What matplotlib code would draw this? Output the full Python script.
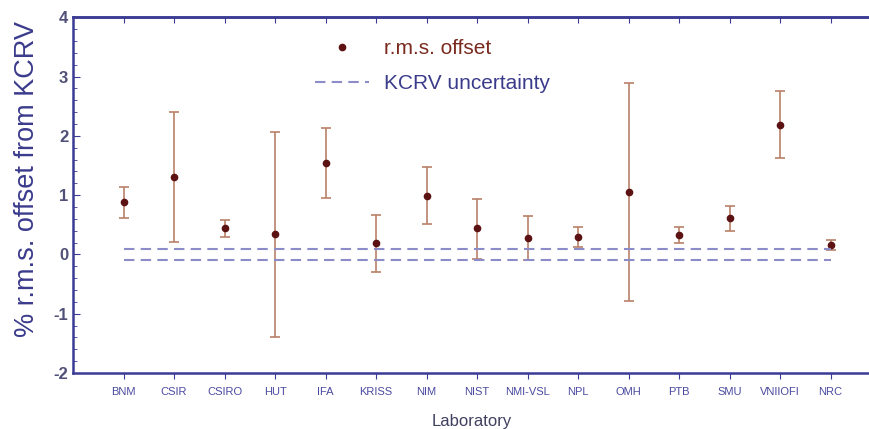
import numpy as np
from matplotlib import pyplot as plt
from matplotlib.ticker import MultipleLocator

labs = ['BNM', 'CSIR', 'CSIRO', 'HUT', 'IFA', 'KRISS', 'NIM', 'NIST',
        'NMI-VSL', 'NPL', 'OMH', 'PTB', 'SMU', 'VNIIOFI', 'NRC']
offset = [0.88, 1.31, 0.44, 0.34, 1.55, 0.19, 0.99, 0.44,
          0.27, 0.30, 1.06, 0.32, 0.61, 2.19, 0.16]
upper = [1.14, 2.40, 0.58, 2.07, 2.14, 0.66, 1.48, 0.94,
         0.65, 0.47, 2.90, 0.46, 0.82, 2.75, 0.24]
lower = [0.61, 0.21, 0.29, -1.39, 0.95, -0.30, 0.52, -0.08,
         -0.09, 0.12, -0.79, 0.19, 0.40, 1.63, 0.08]
kcrv_unc = 0.1

plt.rcParams['font.family'] = ['Liberation Sans', 'DejaVu Sans']
plt.rcParams['axes.unicode_minus'] = False

navy = '#3b3b95'
x = np.arange(1, len(labs) + 1)
off = np.array(offset)
yerr = [off - np.array(lower), np.array(upper) - off]

fig = plt.figure(figsize=(8.7, 4.29), dpi=100)
ax = fig.add_axes([0.0839, 0.1305, 0.9161, 0.8291])

ax.errorbar(x, off, yerr=yerr, fmt='none', ecolor='#b9826a', elinewidth=1.2,
            capsize=3.6, capthick=1.2)
ax.plot(x, off, 'o', color='#5c1212', markersize=4.5, label='r.m.s. offset')
ax.plot([x[0], x[-1]], [kcrv_unc, kcrv_unc], '--', color='#8c8cc8', lw=1.5,
        dashes=(5, 3), label='KCRV uncertainty')
ax.plot([x[0], x[-1]], [-kcrv_unc, -kcrv_unc], '--', color='#8c8cc8', lw=1.5,
        dashes=(5, 3))

ax.set_xlim(0, 15.78)
ax.set_ylim(-2, 4)
ax.set_xticks(x)
ax.set_xticklabels(labs, fontsize=8, color='#4a4aa0')
ax.yaxis.set_major_locator(MultipleLocator(1))
ax.yaxis.set_minor_locator(MultipleLocator(0.2))
for lab in ax.get_yticklabels():
    lab.set_fontweight('bold')
ax.tick_params(axis='y', which='both', direction='in', colors=navy,
               labelcolor='#505078', labelsize=12)
ax.tick_params(axis='y', which='major', length=5)
ax.tick_params(axis='y', which='minor', length=3)
# bottom ticks point out, top ticks point in
ax.tick_params(axis='x', direction='out', length=4, colors=navy,
               labelcolor='#4a4aa0', pad=6)
sec = ax.secondary_xaxis('top')
sec.set_xticks(x, labels=[])
sec.tick_params(direction='in', length=4, colors=navy)
sec.spines['top'].set_color(navy)
sec.spines['top'].set_linewidth(1.8)
for s in ax.spines.values():
    s.set_color(navy)
    s.set_linewidth(1.8)
ax.spines['right'].set_visible(False)

ax.set_ylabel('% r.m.s. offset from KCRV', fontsize=19.5, color='#3b3b8c')
ax.yaxis.set_label_coords(-0.042, 0.545)
ax.set_xlabel('Laboratory', fontsize=12, color='#404060', labelpad=12)

leg = ax.legend(loc='upper left', bbox_to_anchor=(0.28, 0.992), frameon=False,
                fontsize=15, numpoints=1, handlelength=2.6,
                handletextpad=0.7, labelspacing=0.78)
leg.get_texts()[0].set_color('#7a2a1e')
leg.get_texts()[1].set_color('#3b3b8c')

plt.savefig('out.png', dpi=100)
